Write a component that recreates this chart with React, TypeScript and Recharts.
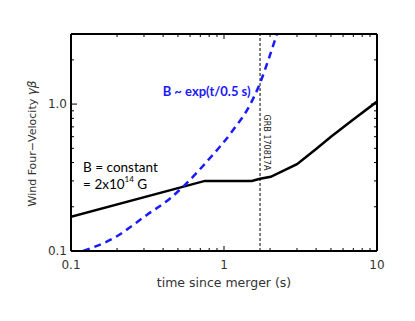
import React from 'react';
import { LineChart, Line, XAxis, YAxis, ReferenceLine, ReferenceDot } from 'recharts';

const constantB = [
  { t: 0.1, v: 0.171 },
  { t: 0.75, v: 0.30 },
  { t: 1.52, v: 0.30 },
  { t: 1.72, v: 0.31 },
  { t: 2.02, v: 0.32 },
  { t: 3.0, v: 0.39 },
  { t: 4.0, v: 0.495 },
  { t: 5.0, v: 0.60 },
  { t: 7.0, v: 0.785 },
  { t: 10.0, v: 1.04 },
];

const expB = [
  { t: 0.12, v: 0.1 },
  { t: 0.189, v: 0.122 },
  { t: 0.313, v: 0.176 },
  { t: 0.444, v: 0.228 },
  { t: 0.556, v: 0.282 },
  { t: 0.79, v: 0.417 },
  { t: 1.15, v: 0.668 },
  { t: 1.48, v: 0.99 },
  { t: 1.72, v: 1.39 },
  { t: 1.95, v: 2.0 },
  { t: 2.21, v: 2.97 },
  { t: 2.3, v: 3.4 },
];

const xTicks = [0.1, 0.2, 0.3, 0.4, 0.5, 0.6, 0.7, 0.8, 0.9, 1, 2, 3, 4, 5, 6, 7, 8, 9, 10];
const xMajor: Record<string, string> = { '0.1': '0.1', '1': '1', '10': '10' };
const yTicks = [0.1, 0.2, 0.3, 0.4, 0.5, 0.6, 0.7, 0.8, 0.9, 1, 2, 3];
const yMajor: Record<string, string> = { '0.1': '0.1', '1': '1.0' };
const grbTime = 1.72;

const FONT = '"DejaVu Sans", sans-serif';
const TXT = '#333';

const BottomTick = (p: any) => {
  const key = String(p.payload.value);
  const major = key in xMajor;
  return (
    <g>
      <line x1={p.x} x2={p.x} y1={p.y} y2={p.y - (major ? 5 : 3)} stroke="#000" strokeWidth={1} />
      {major && (
        <text x={p.x} y={p.y + 18} textAnchor="middle" fontFamily={FONT} fontSize={12} fill={TXT}>
          {xMajor[key]}
        </text>
      )}
    </g>
  );
};

const TopTick = (p: any) => {
  const major = String(p.payload.value) in xMajor;
  return <line x1={p.x} x2={p.x} y1={p.y} y2={p.y + (major ? 5 : 3)} stroke="#000" strokeWidth={1} />;
};

const LeftTick = (p: any) => {
  const key = String(p.payload.value);
  const major = key in yMajor;
  return (
    <g>
      <line x1={p.x} x2={p.x + (major ? 6 : 3)} y1={p.y} y2={p.y} stroke="#000" strokeWidth={1} />
      {major && (
        <text x={p.x - 4} y={p.y + 4} textAnchor="end" fontFamily={FONT} fontSize={12} fill={TXT}>
          {yMajor[key]}
        </text>
      )}
    </g>
  );
};

const RightTick = (p: any) => {
  const major = String(p.payload.value) in yMajor;
  return <line x1={p.x} x2={p.x - (major ? 6 : 3)} y1={p.y} y2={p.y} stroke="#000" strokeWidth={1} />;
};

const XTitle = (p: any) => {
  const vb = p.viewBox;
  return (
    <text x={vb.x + vb.width / 2} y={vb.y + 36} textAnchor="middle" fontFamily={FONT} fontSize={12.5} fill={TXT}>
      time since merger (s)
    </text>
  );
};

const YTitle = (p: any) => {
  const vb = p.viewBox;
  const cx = vb.x + 1;
  const cy = vb.y + vb.height / 2 + 1;
  return (
    <text
      x={cx}
      y={cy}
      transform={`rotate(-90 ${cx} ${cy})`}
      textAnchor="middle"
      dominantBaseline="central"
      fontFamily={FONT}
      fontSize={11}
      fill={TXT}
    >
      Wind Four−Velocity <tspan fontStyle="italic" fontSize={12}>γβ</tspan>
    </text>
  );
};

const GrbLabel = (p: any) => {
  const vb = p.viewBox;
  const cx = vb.x + 6;
  const cy = vb.y + vb.height / 2;
  return (
    <text
      x={cx}
      y={cy}
      transform={`rotate(90 ${cx} ${cy})`}
      textAnchor="middle"
      dominantBaseline="central"
      fontFamily={FONT}
      fontSize={8}
      fill="#222"
    >
      GRB 170817A
    </text>
  );
};

const ExpLabel = (p: any) => {
  const vb = p.viewBox;
  return (
    <text x={vb.x} y={vb.y} textAnchor="middle" dominantBaseline="central" fontFamily="Lato, sans-serif" fontWeight="bold" fontSize={13} fill="#1a1aff">
      B ~ exp(t/0.5 s)
    </text>
  );
};

const ConstLabel1 = (p: any) => {
  const vb = p.viewBox;
  return (
    <text x={vb.x} y={vb.y} textAnchor="start" dominantBaseline="central" fontFamily="Lato, sans-serif" fontSize={13.5} fill="#000">
      B = constant
    </text>
  );
};

const ConstLabel2 = (p: any) => {
  const vb = p.viewBox;
  return (
    <text x={vb.x} y={vb.y} textAnchor="start" dominantBaseline="central" fontFamily="Lato, sans-serif" fontSize={13.5} fill="#000">
      = 2x10<tspan fontSize={8} dy={-5}>14</tspan>
      <tspan dy={5}> G</tspan>
    </text>
  );
};

export default function App() {
  return (
    <div style={{ position: 'absolute', left: 0, top: 0, width: 415, height: 321, background: '#fff' }}>
      <LineChart width={415} height={321} margin={{ top: 24, right: 28, bottom: 40, left: 31 }}>
        <XAxis
          dataKey="t"
          type="number"
          scale="log"
          domain={[0.1, 10]}
          allowDataOverflow
          ticks={xTicks}
          interval={0}
          height={30}
          tickSize={0}
          tickMargin={0}
          tickLine={false}
          axisLine={{ stroke: '#000', strokeWidth: 2 }}
          tick={<BottomTick />}
          label={<XTitle />}
        />
        <XAxis
          xAxisId="top"
          orientation="top"
          dataKey="t"
          type="number"
          scale="log"
          domain={[0.1, 10]}
          allowDataOverflow
          ticks={xTicks}
          interval={0}
          height={10}
          tickSize={0}
          tickMargin={0}
          tickLine={false}
          axisLine={{ stroke: '#000', strokeWidth: 2 }}
          tick={<TopTick />}
        />
        <YAxis
          type="number"
          scale="log"
          domain={[0.1, 3]}
          allowDataOverflow
          ticks={yTicks}
          interval={0}
          width={40}
          tickSize={0}
          tickMargin={0}
          tickLine={false}
          axisLine={{ stroke: '#000', strokeWidth: 2 }}
          tick={<LeftTick />}
          label={<YTitle />}
        />
        <YAxis
          yAxisId="right"
          orientation="right"
          type="number"
          scale="log"
          domain={[0.1, 3]}
          allowDataOverflow
          ticks={yTicks}
          interval={0}
          width={10}
          tickSize={0}
          tickMargin={0}
          tickLine={false}
          axisLine={{ stroke: '#000', strokeWidth: 2 }}
          tick={<RightTick />}
        />
        <ReferenceLine x={grbTime} stroke="#000" strokeWidth={1} strokeDasharray="3 2" label={<GrbLabel />} />
        <Line
          data={constantB}
          dataKey="v"
          type="linear"
          stroke="#000"
          strokeWidth={2.5}
          dot={false}
          isAnimationActive={false}
        />
        <Line
          data={expB}
          dataKey="v"
          type="monotone"
          stroke="#1a1aff"
          strokeWidth={2.5}
          strokeDasharray="7 5"
          dot={false}
          isAnimationActive={false}
        />
        <ReferenceDot x={0.77} y={1.22} r={0} fill="none" stroke="none" label={<ExpLabel />} />
        <ReferenceDot x={0.12} y={0.376} r={0} fill="none" stroke="none" label={<ConstLabel1 />} />
        <ReferenceDot x={0.12} y={0.285} r={0} fill="none" stroke="none" label={<ConstLabel2 />} />
      </LineChart>
    </div>
  );
}
